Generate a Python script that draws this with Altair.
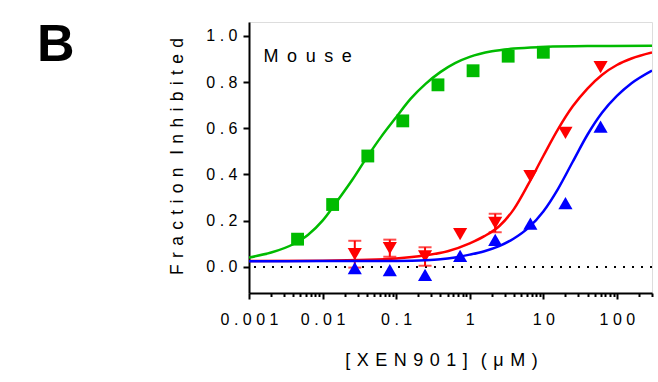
import altair as alt
import pandas as pd

# ---------------- data ----------------
dose_green = [0.00457, 0.0137, 0.0412, 0.123, 0.37, 1.11, 3.33, 10]
frac_green = [0.12, 0.27, 0.48, 0.632, 0.788, 0.849, 0.912, 0.929]

dose_rb = [0.0274, 0.082, 0.247, 0.74, 2.22, 6.67, 20, 60]
frac_red = [0.055, 0.081, 0.045, 0.142, 0.19, 0.393, 0.58, 0.865]
err_red = [0.058, 0.037, 0.04, 0, 0.04, 0, 0, 0]
frac_blue = [-0.005, -0.014, -0.035, 0.048, 0.117, 0.187, 0.276, 0.607]

# fitted curves (x as dose, y as fraction)
fit_green_x = [0.001, 0.002, 0.00398, 0.00631, 0.01, 0.0158, 0.0251, 0.0398,
               0.0631, 0.1, 0.158, 0.251, 0.398, 0.631, 1.0, 2.0, 3.98, 10,
               39.8, 300]
fit_green_y = [0.041, 0.062, 0.098, 0.138, 0.200, 0.285, 0.375, 0.473,
               0.565, 0.648, 0.728, 0.792, 0.843, 0.882, 0.909, 0.933, 0.945,
               0.952, 0.956, 0.957]

fit_red_x = [0.001, 0.01, 0.0316, 0.1, 0.251, 0.501, 1.0, 1.58, 2.51, 3.98,
             6.31, 10, 15.8, 25.1, 39.8, 63.1, 100, 158, 300]
fit_red_y = [0.025, 0.027, 0.030, 0.036, 0.050, 0.068, 0.102, 0.133, 0.176,
             0.25, 0.36, 0.48, 0.595, 0.695, 0.772, 0.832, 0.874, 0.902, 0.928]

fit_blue_x = [0.001, 0.01, 0.1, 0.251, 0.398, 0.631, 1.0, 1.58, 2.51, 3.98,
              6.31, 10, 15.8, 25.1, 39.8, 63.1, 100, 158, 300]
fit_blue_y = [0.024, 0.025, 0.026, 0.029, 0.033, 0.041, 0.053, 0.068, 0.090,
              0.123, 0.17, 0.24, 0.337, 0.455, 0.572, 0.668, 0.74, 0.795, 0.85]

x_major = [0.001, 0.01, 0.1, 1, 10, 100]
x_major_labels = ["0.001", "0.01", "0.1", "1", "10", "100"]
y_major = [0.0, 0.2, 0.4, 0.6, 0.8, 1.0]
y_major_labels = ["0.0", "0.2", "0.4", "0.6", "0.8", "1.0"]
y_minor = [0.1, 0.3, 0.5, 0.7, 0.9]

annot_text = ["Mouse"]
annot_x = [0.00157]
annot_y = [0.887]

x_title = "[XEN901] (μM)"
y_title = "Fraction Inhibited"
panel_label = "B"

# ---------------- helpers ----------------
FONT = "Liberation Sans"


def spaced(s, gap=" "):
    return gap.join(list(s))


def label_expr(values, labels):
    expr = "''"
    for v, l in reversed(list(zip(values, labels))):
        expr = f"datum.value == {v} ? '{spaced(l)}' : {expr}"
    return expr


x_minor = [round(d * k, 6) for d in x_major for k in range(2, 10) if d * k <= 300]
x_values = sorted(x_major + x_minor)
y_values = sorted(y_major + y_minor)

major_x_test = "indexof([" + ",".join(str(v) for v in x_major) + "], datum.value) >= 0"
major_y_test = "indexof([" + ",".join(str(v) for v in y_major) + "], datum.value) >= 0"

xs = alt.Scale(type="log", domain=[0.001, 300], nice=False)
ys = alt.Scale(domain=[-0.113, 1.06], nice=False, zero=False)

x_axis = alt.Axis(
    values=x_values,
    labelExpr=label_expr(x_major, x_major_labels),
    tickSize={"condition": {"test": major_x_test, "value": 6}, "value": 3.5},
    title=spaced(x_title, " \u200a"),
    titleFont=FONT, titleFontSize=18, titleFontWeight="normal", titleColor="black",
    titleX=192, titleY=72, titleAlign="center", titleBaseline="alphabetic",
    labelFont=FONT, labelFontSize=16, labelColor="black", labelPadding=12,
    labelBaseline="top", labelFlush=False, labelOverlap=False,
    domainColor="black", domainWidth=2, tickColor="black", tickWidth=2,
    grid=False, orient="bottom",
)
y_axis = alt.Axis(
    values=y_values,
    labelExpr=label_expr(y_major, y_major_labels),
    tickSize={"condition": {"test": major_y_test, "value": 6}, "value": 3.5},
    title=spaced(y_title, " \u200a"),
    titleFont=FONT, titleFontSize=17.5, titleFontWeight="normal", titleColor="black",
    titleX=-67, titleY=134, titleAngle=270, titleAlign="center",
    titleBaseline="alphabetic",
    labelFont=FONT, labelFontSize=16, labelColor="black", labelPadding=6,
    labelFlush=False, labelOverlap=False,
    domainColor="black", domainWidth=2, tickColor="black", tickWidth=2,
    grid=False, orient="left",
)

X = alt.X("dose:Q", scale=xs, axis=x_axis)
Y = alt.Y("frac:Q", scale=ys, axis=y_axis)

GREEN = "#00BB00"
RED = "#FF0000"
BLUE = "#0000FF"

green_pts = pd.DataFrame({"dose": dose_green, "frac": frac_green})
red_pts = pd.DataFrame({"dose": dose_rb, "frac": frac_red, "err": err_red})
red_pts["lo"] = red_pts["frac"] - red_pts["err"]
red_pts["hi"] = red_pts["frac"] + red_pts["err"]
red_err = red_pts[red_pts["err"] > 0]
blue_pts = pd.DataFrame({"dose": dose_rb, "frac": frac_blue})
green_fit = pd.DataFrame({"dose": fit_green_x, "frac": fit_green_y})
red_fit = pd.DataFrame({"dose": fit_red_x, "frac": fit_red_y})
blue_fit = pd.DataFrame({"dose": fit_blue_x, "frac": fit_blue_y})
annot = pd.DataFrame({"dose": annot_x, "frac": annot_y,
                      "label": [spaced(t, " \u2009") for t in annot_text]})

base_zero = alt.Chart(green_pts).mark_rule(
    color="black", strokeWidth=2, strokeDash=[2, 7]
).encode(y=alt.datum(0, scale=ys))


def curve(df, color):
    return alt.Chart(df).mark_line(
        color=color, strokeWidth=2.5, interpolate="monotone", clip=True
    ).encode(x=X, y=Y)


def points(df, color, shape, size):
    return alt.Chart(df).mark_point(
        filled=True, shape=shape, size=size, color=color, opacity=1
    ).encode(x=X, y=Y)


red_bars = alt.Chart(red_err).mark_rule(color=RED, strokeWidth=2).encode(
    x=X, y=alt.Y("lo:Q", scale=ys, axis=y_axis), y2="hi:Q"
)
red_cap_lo = alt.Chart(red_err).mark_tick(
    color=RED, thickness=2, size=13, orient="horizontal"
).encode(x=X, y=alt.Y("lo:Q", scale=ys, axis=y_axis))
red_cap_hi = alt.Chart(red_err).mark_tick(
    color=RED, thickness=2, size=13, orient="horizontal"
).encode(x=X, y=alt.Y("hi:Q", scale=ys, axis=y_axis))

label = alt.Chart(annot).mark_text(
    font=FONT, fontSize=18, color="black", align="left", baseline="alphabetic"
).encode(x=X, y=Y, text="label:N")

chart = alt.layer(
    base_zero,
    curve(green_fit, GREEN),
    points(green_pts, GREEN, "square", 165),
    curve(red_fit, RED),
    red_bars, red_cap_lo, red_cap_hi,
    points(red_pts, RED, "triangle-down", 200),
    curve(blue_fit, BLUE),
    points(blue_pts, BLUE, "triangle-up", 200),
    label,
).properties(
    width=403,
    height=271,
    autosize=alt.AutoSizeParams(type="none"),
    padding={"left": 249, "top": 22, "right": 6, "bottom": 89},
    title=alt.TitleParams(
        text=panel_label, anchor="start", frame="group", fontSize=52,
        fontWeight="bold", font=FONT, color="black", dx=-212, dy=91,
        offset=0, baseline="alphabetic",
    ),
).configure_view(stroke=None).configure(background="white")

chart.save("out.html", embed_options={"renderer": "svg", "actions": False})
